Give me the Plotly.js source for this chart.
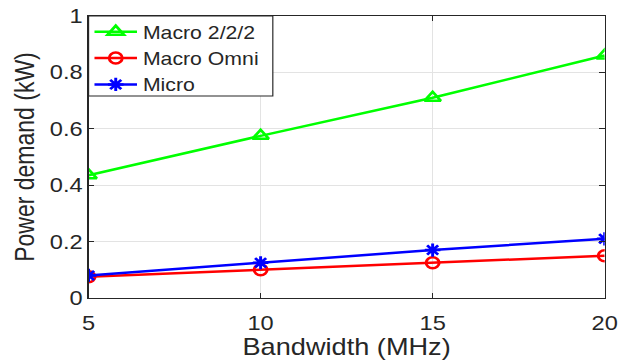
<!DOCTYPE html>
<html>
<head>
<meta charset="utf-8">
<script src="https://cdn.plot.ly/plotly-3.0.1.min.js"></script>
<style>
html,body{margin:0;padding:0;background:#fff;overflow:hidden;}
#wrap{width:620px;height:360px;overflow:hidden;}
#chart{width:525px;height:360px;transform:scaleX(1.181);transform-origin:0 0;}
</style>
</head>
<body>
<div id="wrap"><div id="chart"></div></div>
<script>
const bandwidth = [5, 10, 15, 20];
const macro222 = [0.435, 0.575, 0.71, 0.86];
const macroOmni = [0.075, 0.10, 0.125, 0.15];
const micro = [0.08, 0.125, 0.17, 0.21];
const seriesNames = ['Macro 2/2/2', 'Macro Omni', 'Micro'];
const xTicks = [5, 10, 15, 20];
const yTicks = [0, 0.2, 0.4, 0.6, 0.8, 1];

const ink = '#262626';
const traces = [
  {x: bandwidth, y: macro222, name: seriesNames[0], mode: 'lines+markers',
   line: {color: '#00ff00', width: 2.5},
   marker: {symbol: 'triangle-up-open', size: 12, color: '#00ff00', line: {width: 2.5, color: '#00ff00'}}},
  {x: bandwidth, y: macroOmni, name: seriesNames[1], mode: 'lines+markers',
   line: {color: '#ff0000', width: 2.5},
   marker: {symbol: 'circle-open', size: 11, color: '#ff0000', line: {width: 2.5, color: '#ff0000'}}},
  {x: bandwidth, y: micro, name: seriesNames[2], mode: 'lines+markers',
   line: {color: '#0000ff', width: 2.5},
   marker: {symbol: 'asterisk-open', size: 11, color: '#0000ff', line: {width: 2.5, color: '#0000ff'}}}
];

const layout = {
  width: 525, height: 360,
  margin: {l: 75, r: 13, t: 16, b: 62, autoexpand: false},
  paper_bgcolor: '#ffffff', plot_bgcolor: '#ffffff',
  font: {family: 'Liberation Sans, Arial, sans-serif', color: ink},
  showlegend: true,
  legend: {x: 0, y: 1.009, xanchor: 'left', yanchor: 'top',
    bgcolor: 'rgba(0,0,0,0)', borderwidth: 0,
    font: {size: 18, color: ink}, tracegroupgap: 0, itemwidth: 36},
  shapes: [{type: 'rect', xref: 'paper', yref: 'paper', layer: 'above',
    x0: 0, x1: 0.357, y0: 0.716, y1: 1,
    fillcolor: '#ffffff', line: {color: ink, width: 1}}],
  xaxis: {
    range: [5, 20], tickvals: xTicks, ticktext: xTicks.map(String),
    showgrid: true, gridcolor: '#e3e3e3', gridwidth: 1,
    showline: true, linecolor: ink, linewidth: 1, mirror: 'ticks',
    ticks: 'inside', ticklen: 5, tickcolor: ink, ticklabelstandoff: 7,
    tickfont: {size: 20, color: ink}, zeroline: false,
    title: {text: 'Bandwidth (MHz)', font: {size: 23, color: ink}, standoff: 0}
  },
  yaxis: {
    range: [0, 1], tickvals: yTicks, ticktext: yTicks.map(String),
    showgrid: true, gridcolor: '#e3e3e3', gridwidth: 1,
    showline: true, linecolor: ink, linewidth: 1, mirror: 'ticks',
    ticks: 'inside', ticklen: 5, tickcolor: ink,
    tickfont: {size: 20, color: ink}, zeroline: false,
    title: {text: 'Power demand (kW)', font: {size: 23, color: ink}, standoff: 6}
  }
};

Plotly.newPlot('chart', traces, layout, {displayModeBar: false, staticPlot: true});
</script>
</body>
</html>
